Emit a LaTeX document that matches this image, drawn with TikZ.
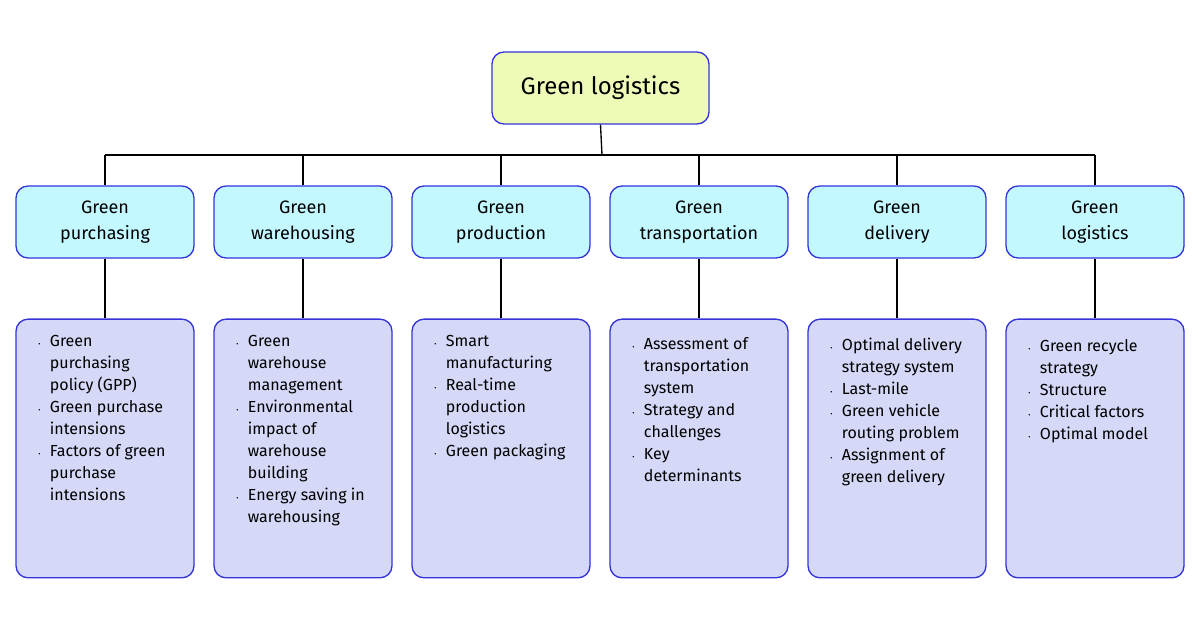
\documentclass[tikz,border=0pt]{standalone}
\usepackage{fontspec}
\setmainfont{Fira Sans}
\usepackage{enumitem}
\definecolor{bd}{HTML}{3434D8}
\definecolor{rootf}{HTML}{EEFBB8}
\definecolor{midf}{HTML}{C4F8FF}
\definecolor{lowf}{HTML}{D6D8F8}
\newcommand{\blist}[1]{\begin{minipage}[t]{112pt}\begin{itemize}[leftmargin=14pt,labelsep=7pt,itemsep=0pt,topsep=0pt,parsep=0pt,label={\tiny\textbullet}]#1\end{itemize}\end{minipage}}
\begin{document}
\begin{tikzpicture}[x=0.75pt,y=-0.75pt,
  box/.style={draw=bd,line width=1pt,rounded corners=9pt,minimum width=133.5pt,align=center},
  mid/.style={box,fill=midf,minimum height=54pt,font=\fontsize{13.5}{19.5}\selectfont},
  low/.style={box,fill=lowf,minimum height=194pt},
  lst/.style={anchor=north west,inner sep=0pt,font=\fontsize{12}{16.5}\selectfont},
  ln/.style={line width=1pt}]
\useasboundingbox (0,0) rectangle (1200,630);
\node[box,fill=rootf,minimum width=162.75pt,minimum height=54pt,font=\fontsize{18}{22}\selectfont] (root) at (600.5,88) {Green logistics};
\coordinate (bus) at (602,155);
\foreach \i/\x/\t in {1/105/{Green\\purchasing},2/303/{Green\\warehousing},3/501/{Green\\production},4/699/{Green\\transportation},5/897/{Green\\delivery},6/1095/{Green\\logistics}}{
  \node[mid] (m\i) at (\x,222) {\t};
  \node[low] (l\i) at (\x,448.5) {};
  \coordinate (b\i) at (\x,155);
  \draw[ln] (m\i.south) -- (l\i.north);
}
\draw[ln] (root.south) -- (bus);
\draw[ln] (b1) -- (b6);
\foreach \i in {1,...,6}{\draw[ln] (b\i) -- (m\i.north);}
\node[lst] (t1) at (31,335) {\blist{\item Green\newline purchasing\newline policy (GPP)\item Green purchase\newline intensions\item Factors of green\newline purchase\newline intensions}};
\node[lst] (t2) at (229,335) {\blist{\item Green\newline warehouse\newline management\item Environmental\newline impact of\newline warehouse\newline building\item Energy saving in\newline warehousing}};
\node[lst] (t3) at (427,335) {\blist{\item Smart\newline manufacturing\item Real-time\newline production\newline logistics\item Green packaging}};
\node[lst] (t4) at (625,337) {\blist{\item Assessment of\newline transportation\newline system\item Strategy and\newline challenges\item Key\newline determinants}};
\node[lst] (t5) at (823,338) {\blist{\item Optimal delivery\newline strategy system\item Last-mile\item Green vehicle\newline routing problem\item Assignment of\newline green delivery}};
\node[lst] (t6) at (1021,339) {\blist{\item Green recycle\newline strategy\item Structure\item Critical factors\item Optimal model}};
\end{tikzpicture}
\end{document}
